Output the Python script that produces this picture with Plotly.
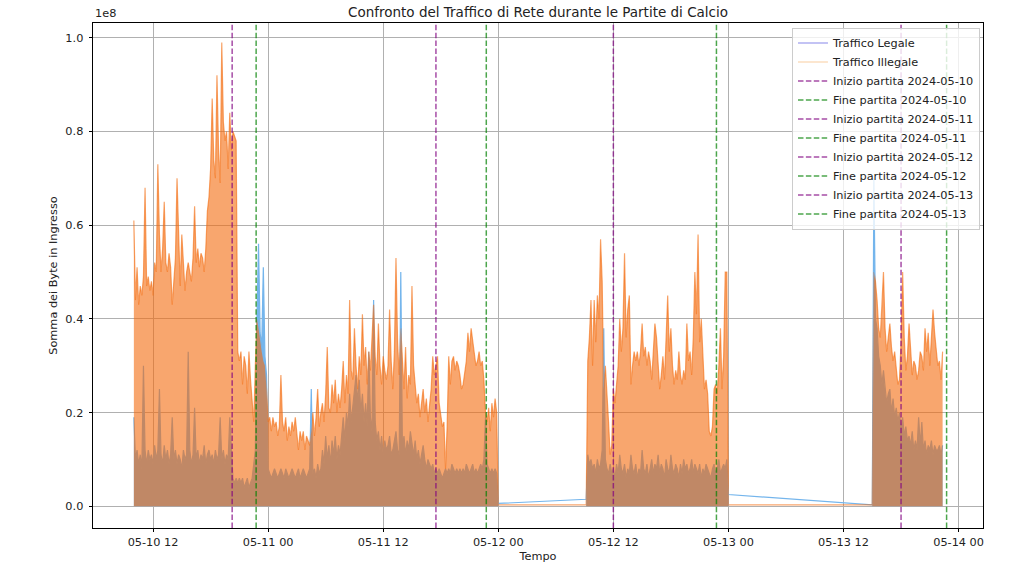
import numpy as np
import pandas as pd
import plotly.graph_objects as go

# ---------------- data (values in 1e6 bytes, 10-minute samples) ----------------
seg_a_start = "2024-05-10 10:00"
seg_b_start = "2024-05-12 09:10"
seg_c_start = "2024-05-13 15:00"

illegal_a = [
    61, 44, 51, 43, 47, 45, 49, 68, 47, 49,
    46, 48, 45, 52, 50, 73, 58, 50, 55, 65,
    52, 50, 54, 51, 43, 49, 53, 70, 55, 47,
    58, 53, 46, 50, 52, 50, 48, 53, 64, 52,
    55, 51, 54, 53, 50, 55, 63, 66, 72, 87,
    74, 70, 92, 76, 69, 99, 82, 78, 80, 72,
    84, 76, 80, 79, 78, 33, 31, 33, 26, 32,
    30, 24, 33, 27, 22, 18, 30, 40, 38, 35,
    33, 31, 30, 25, 18, 19, 16, 19, 17, 18,
    15, 17, 28, 18, 16, 19, 14, 17, 15, 18,
    16, 19, 15, 12, 16, 14, 16, 12, 15, 14,
    13, 16, 20, 15, 19, 25, 17, 20, 22, 18,
    24, 34, 21, 20, 26, 22, 27, 20, 24, 21,
    25, 31, 22, 28, 24, 44, 29, 27, 38, 30,
    25, 32, 28, 41, 30, 34, 26, 33, 29, 36,
    43, 32, 28, 39, 30, 26, 32, 29, 27, 30,
    42, 31, 25, 33, 53, 35, 28, 38, 30, 25,
    34, 23, 28, 26, 47, 30, 26, 22, 24, 19,
    22, 25, 20, 23, 18, 21, 25, 32, 28, 30,
    32, 22, 19, 17, 18, 8, 17, 32, 26, 31,
    32, 29, 31, 30, 28, 25, 26, 29, 31, 37,
    33, 38, 35, 32, 30, 31, 33, 30, 31, 27,
    20, 18, 21, 16, 22, 19, 23, 20, 0.3,
]
legal_a = [
    19, 10, 12, 9, 11, 8, 30, 12, 9, 12,
    10, 11, 9, 13, 10, 12, 25, 11, 9, 13,
    10, 12, 9, 11, 19, 10, 12, 9, 11, 10,
    8, 12, 10, 11, 33, 12, 9, 11, 21, 10,
    12, 9, 11, 10, 13, 9, 11, 12, 10, 11,
    9, 12, 10, 11, 19, 10, 12, 9, 11, 10,
    19, 11, 6, 5, 6, 5, 6, 5, 6, 4,
    5, 6, 4, 5, 6, 9, 12, 40, 56, 37,
    34, 51, 32, 28, 8, 7, 6, 7, 8, 7,
    6, 7, 8, 7, 6, 8, 7, 6, 7, 8,
    7, 6, 7, 8, 6, 7, 8, 7, 6, 7,
    8, 25, 7, 8, 6, 9, 7, 8, 12, 9,
    15, 10, 13, 9, 14, 11, 15, 10, 13, 11,
    16, 19, 14, 20, 17, 24, 18, 21, 25, 28,
    22, 27, 20, 24, 18, 22, 17, 33, 19, 16,
    44, 18, 14, 16, 12, 15, 11, 14, 12, 13,
    15, 11, 12, 14, 16, 12, 11, 50, 13, 15,
    11, 14, 12, 16, 13, 11, 14, 10, 12, 9,
    11, 13, 10, 8, 10, 9, 8, 9, 7, 8,
    7, 8, 7, 6, 7, 8, 7, 8, 7, 9,
    8, 7, 8, 7, 8, 7, 8, 7, 9, 8,
    7, 8, 9, 7, 8, 7, 8, 9, 8, 10,
    19, 9, 8, 7, 8, 7, 8, 7, 0.6,
]
illegal_b = [
    0.3, 31, 36, 44, 30, 44, 35, 45, 40, 57,
    48, 25, 30, 25, 18, 11, 13, 25, 22, 26,
    30, 40, 33, 38, 54, 36, 42, 45, 26, 30,
    33, 31, 33, 30, 33, 39, 32, 34, 30, 33,
    31, 27, 34, 39, 36, 30, 25, 28, 32, 27,
    35, 45, 33, 38, 30, 26, 29, 27, 33, 28,
    26, 29, 27, 39, 31, 33, 28, 36, 50, 41,
    58, 35, 40, 32, 25, 27, 24, 16, 15, 17,
    25, 26, 24, 30, 38, 25, 32, 50, 50, 0.3,
]
legal_b = [
    1.5, 11, 9, 10, 8, 9, 7, 10, 8, 9,
    12, 38, 10, 8, 7, 9, 7, 8, 6, 9,
    7, 11, 8, 7, 9, 6, 8, 7, 11, 8,
    7, 9, 6, 8, 7, 12, 8, 7, 9, 6,
    8, 10, 7, 9, 8, 11, 7, 9, 8, 6,
    10, 8, 7, 11, 8, 7, 9, 8, 6, 9,
    7, 10, 8, 9, 7, 8, 10, 7, 9, 8,
    7, 9, 6, 8, 7, 9, 8, 7, 6, 8,
    9, 7, 8, 10, 7, 8, 9, 8, 10, 2.5,
]
illegal_c = [
    0.3, 50, 48, 44, 38, 36, 42, 50, 38, 33,
    36, 39, 34, 31, 33, 29, 26, 27, 35, 50,
    36, 29, 32, 39, 33, 28, 31, 30, 27, 29,
    33, 32, 29, 38, 33, 37, 30, 35, 42, 37,
    34, 30, 31, 27, 33,
]
legal_c = [
    0.3, 70, 40, 38, 32, 30, 26, 29, 25, 22,
    24, 25, 20, 23, 19, 21, 18, 20, 16, 19,
    15, 17, 14, 15, 13, 16, 12, 14, 12, 19,
    13, 18, 12, 14, 11, 13, 12, 14, 11, 13,
    12, 12, 13, 11, 13,
]

match_dates = ["2024-05-10", "2024-05-11", "2024-05-12", "2024-05-13"]
match_starts = ["2024-05-10 20:15", "2024-05-11 17:30", "2024-05-12 12:00", "2024-05-13 18:00"]
match_ends = ["2024-05-10 22:45", "2024-05-11 22:45", "2024-05-12 22:45", "2024-05-13 22:45"]

# ---------------- build ----------------
SCALE = 1e6 / 1e8  # stored in 1e6 bytes, axis shown in 1e8


def seg(start, vals):
    t = pd.date_range(start, periods=len(vals), freq="10min")
    return t, np.array(vals, dtype=float) * SCALE


segments_legal = [seg(seg_a_start, legal_a), seg(seg_b_start, legal_b), seg(seg_c_start, legal_c)]
segments_illegal = [seg(seg_a_start, illegal_a), seg(seg_b_start, illegal_b), seg(seg_c_start, illegal_c)]

BLUE = "rgb(116,181,236)"
ORANGE = "rgba(243,107,13,0.6)"
FONT = "DejaVu Sans"

fig = go.Figure()

# connecting lines (under fills)
for segs, col in [(segments_legal, BLUE), (segments_illegal, ORANGE)]:
    tx = np.concatenate([s[0].values for s in segs])
    ty = np.concatenate([s[1] for s in segs])
    fig.add_trace(go.Scatter(x=tx, y=ty, mode="lines", line=dict(color=col, width=1.2),
                             showlegend=False, hoverinfo="skip"))

for t, y in segments_legal:
    fig.add_trace(go.Scatter(x=t, y=y, mode="lines", fill="tozeroy", fillcolor=BLUE,
                             line=dict(color=BLUE, width=0), showlegend=False, hoverinfo="skip"))
for t, y in segments_illegal:
    fig.add_trace(go.Scatter(x=t, y=y, mode="lines", fill="tozeroy", fillcolor=ORANGE,
                             line=dict(color=ORANGE, width=0), showlegend=False, hoverinfo="skip"))

# legend entries for the two series
fig.add_trace(go.Scatter(x=[None], y=[None], mode="lines", name="Traffico Legale", legendrank=1,
                         line=dict(color="rgba(120,120,230,0.6)", width=1.5)))
fig.add_trace(go.Scatter(x=[None], y=[None], mode="lines", name="Traffico Illegale", legendrank=2,
                         line=dict(color="rgba(250,190,130,0.5)", width=1.5)))

PURPLE = "rgba(128,0,128,0.7)"
GREEN = "rgba(0,128,0,0.7)"
rank = 3
for d, s, e in zip(match_dates, match_starts, match_ends):
    fig.add_shape(type="line", x0=s, x1=s, xref="x", yref="paper", y0=0, y1=1,
                  line=dict(color=PURPLE, width=1.5, dash="5.5px,2.4px"),
                  name=f"Inizio partita {d}", showlegend=True, legendrank=rank)
    rank += 1
    fig.add_shape(type="line", x0=e, x1=e, xref="x", yref="paper", y0=0, y1=1,
                  line=dict(color=GREEN, width=1.5, dash="5.5px,2.4px"),
                  name=f"Fine partita {d}", showlegend=True, legendrank=rank)
    rank += 1

axis_common = dict(
    showgrid=True, gridcolor="#b0b0b0", gridwidth=0.8,
    ticks="outside", ticklen=3.5, tickwidth=0.8, tickcolor="black",
    showline=True, linecolor="black", linewidth=0.8, mirror=True,
    zeroline=False, tickfont=dict(family=FONT, size=11.3, color="#222"),
)

fig.update_layout(
    width=1024, height=576,
    margin=dict(l=93, r=41, t=23, b=48),
    plot_bgcolor="white", paper_bgcolor="white",
    font=dict(family=FONT, size=11.3, color="#222"),
    title=dict(text="Confronto del Traffico di Rete durante le Partite di Calcio",
               x=0.5, xref="paper", xanchor="center", y=1 - 12 / 576, yref="container",
               yanchor="middle", font=dict(family=FONT, size=13.5, color="#222")),
    xaxis=dict(type="date", range=["2024-05-10 05:44:20", "2024-05-14 02:32:45"],
               tickformat="%m-%d %H", tick0="2024-05-10 00:00", dtick=43200000,
               title=dict(text="Tempo", standoff=4, font=dict(family=FONT, size=11.3)),
               **axis_common),
    yaxis=dict(range=[-0.0464, 1.0314], tickvals=[0, 0.2, 0.4, 0.6, 0.8, 1.0], tickformat=".1f",
               ticklabelstandoff=3,
               title=dict(text="Somma dei Byte in Ingresso", standoff=5,
                          font=dict(family=FONT, size=11.3)),
               **axis_common),
    legend=dict(x=0.9966, xanchor="right", y=0.991, yanchor="top",
                bgcolor="rgba(255,255,255,0.8)", bordercolor="#cccccc", borderwidth=1,
                font=dict(family=FONT, size=11.3, color="#222"), itemwidth=30,
                tracegroupgap=0),
    annotations=[dict(text="1e8", xref="paper", yref="paper", x=0, y=1, xanchor="left",
                      yanchor="bottom", yshift=1, showarrow=False,
                      font=dict(family=FONT, size=11.3, color="#222"))],
)

fig.write_html("out.html", config={"displayModeBar": False},
               post_script="document.body.style.margin='0';document.body.style.padding='0';")
